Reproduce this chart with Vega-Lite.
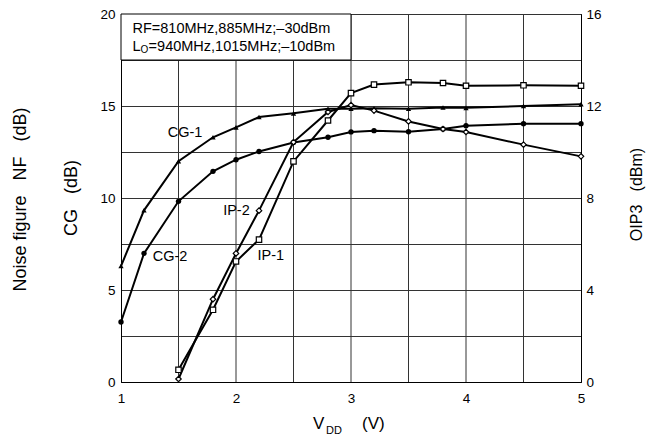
{
  "$schema": "https://vega.github.io/schema/vega-lite/v6.json",
  "autosize": {"type": "none"},
  "width": 460,
  "height": 368,
  "padding": {"left": 121, "top": 14, "right": 74, "bottom": 59},
  "background": "white",
  "config": {
    "font": "Liberation Sans",
    "view": {"stroke": "black", "strokeWidth": 1},
    "axis": {"labelFont": "Liberation Sans", "titleFont": "Liberation Sans", "labelColor": "black", "titleColor": "black", "domainColor": "black", "gridColor": "#333333", "gridWidth": 1, "gridOpacity": 1, "titleFontWeight": "normal"}
  },
  "datasets": {
    "cg": [
      {"series": "CG-1", "vdd": 1.0, "value": 6.3},
      {"series": "CG-1", "vdd": 1.2, "value": 9.33},
      {"series": "CG-1", "vdd": 1.5, "value": 12.0},
      {"series": "CG-1", "vdd": 1.8, "value": 13.3},
      {"series": "CG-1", "vdd": 2.0, "value": 13.84},
      {"series": "CG-1", "vdd": 2.2, "value": 14.4},
      {"series": "CG-1", "vdd": 2.5, "value": 14.6},
      {"series": "CG-1", "vdd": 2.8, "value": 14.85},
      {"series": "CG-1", "vdd": 3.0, "value": 14.85},
      {"series": "CG-1", "vdd": 3.2, "value": 14.88},
      {"series": "CG-1", "vdd": 3.5, "value": 14.85},
      {"series": "CG-1", "vdd": 3.8, "value": 14.92},
      {"series": "CG-1", "vdd": 4.0, "value": 14.9},
      {"series": "CG-1", "vdd": 4.5, "value": 15.0},
      {"series": "CG-1", "vdd": 5.0, "value": 15.1},
      {"series": "CG-2", "vdd": 1.0, "value": 3.26},
      {"series": "CG-2", "vdd": 1.2, "value": 6.99},
      {"series": "CG-2", "vdd": 1.5, "value": 9.82},
      {"series": "CG-2", "vdd": 1.8, "value": 11.45},
      {"series": "CG-2", "vdd": 2.0, "value": 12.08},
      {"series": "CG-2", "vdd": 2.2, "value": 12.53},
      {"series": "CG-2", "vdd": 2.5, "value": 13.02},
      {"series": "CG-2", "vdd": 2.8, "value": 13.3},
      {"series": "CG-2", "vdd": 3.0, "value": 13.59},
      {"series": "CG-2", "vdd": 3.2, "value": 13.66},
      {"series": "CG-2", "vdd": 3.5, "value": 13.6},
      {"series": "CG-2", "vdd": 3.8, "value": 13.75},
      {"series": "CG-2", "vdd": 4.0, "value": 13.93},
      {"series": "CG-2", "vdd": 4.5, "value": 14.04},
      {"series": "CG-2", "vdd": 5.0, "value": 14.04}
    ],
    "ip": [
      {"series": "IP-1", "vdd": 1.5, "value": 0.53},
      {"series": "IP-1", "vdd": 1.8, "value": 3.14},
      {"series": "IP-1", "vdd": 2.0, "value": 5.24},
      {"series": "IP-1", "vdd": 2.2, "value": 6.19},
      {"series": "IP-1", "vdd": 2.5, "value": 9.59},
      {"series": "IP-1", "vdd": 2.8, "value": 11.37},
      {"series": "IP-1", "vdd": 3.0, "value": 12.56},
      {"series": "IP-1", "vdd": 3.2, "value": 12.93},
      {"series": "IP-1", "vdd": 3.5, "value": 13.03},
      {"series": "IP-1", "vdd": 3.8, "value": 13.0},
      {"series": "IP-1", "vdd": 4.0, "value": 12.88},
      {"series": "IP-1", "vdd": 4.5, "value": 12.9},
      {"series": "IP-1", "vdd": 5.0, "value": 12.88},
      {"series": "IP-2", "vdd": 1.5, "value": 0.13},
      {"series": "IP-2", "vdd": 1.8, "value": 3.6},
      {"series": "IP-2", "vdd": 2.0, "value": 5.59},
      {"series": "IP-2", "vdd": 2.2, "value": 7.45},
      {"series": "IP-2", "vdd": 2.5, "value": 10.43},
      {"series": "IP-2", "vdd": 2.8, "value": 11.74},
      {"series": "IP-2", "vdd": 3.0, "value": 12.04},
      {"series": "IP-2", "vdd": 3.2, "value": 11.8},
      {"series": "IP-2", "vdd": 3.5, "value": 11.33},
      {"series": "IP-2", "vdd": 3.8, "value": 11.0},
      {"series": "IP-2", "vdd": 4.0, "value": 10.87},
      {"series": "IP-2", "vdd": 4.5, "value": 10.32},
      {"series": "IP-2", "vdd": 5.0, "value": 9.81}
    ],
    "vgrid": [
      {"g": "a", "vdd": 1.5, "y": 0}, {"g": "a", "vdd": 1.5, "y": 20},
      {"g": "b", "vdd": 2.0, "y": 0}, {"g": "b", "vdd": 2.0, "y": 20},
      {"g": "c", "vdd": 2.5, "y": 0}, {"g": "c", "vdd": 2.5, "y": 20},
      {"g": "d", "vdd": 3.0, "y": 0}, {"g": "d", "vdd": 3.0, "y": 20},
      {"g": "e", "vdd": 3.5, "y": 0}, {"g": "e", "vdd": 3.5, "y": 20},
      {"g": "f", "vdd": 4.0, "y": 0}, {"g": "f", "vdd": 4.0, "y": 20},
      {"g": "h", "vdd": 4.5, "y": 0}, {"g": "h", "vdd": 4.5, "y": 20}
    ],
    "box": [
      {"vdd": 1, "vdd2": 3, "y": 17.5, "y2": 20}
    ],
    "notes": [
      {"group": "curve", "vdd": 1.557, "y": 13.51, "text": "CG-1"},
      {"group": "curve", "vdd": 1.426, "y": 6.82, "text": "CG-2"},
      {"group": "curve", "vdd": 2.004, "y": 9.31, "text": "IP-2"},
      {"group": "curve", "vdd": 2.302, "y": 6.85, "text": "IP-1"},
      {"group": "box", "vdd": 1.1, "y": 19.18, "text": "RF=810MHz,885MHz;–30dBm"},
      {"group": "box", "vdd": 1.1, "y": 18.23, "text": "L"},
      {"group": "boxsub", "vdd": 1.17, "y": 18.03, "text": "O"},
      {"group": "box", "vdd": 1.24, "y": 18.23, "text": "=940MHz,1015MHz;–10dBm"},
      {"group": "xtitle", "vdd": 2.67, "y": -2.283, "text": "V"},
      {"group": "xsub", "vdd": 2.783, "y": -2.636, "text": "DD"},
      {"group": "xtitle", "vdd": 3.096, "y": -2.283, "text": "(V)"}
    ]
  },
  "encoding": {
    "x": {"field": "vdd", "type": "quantitative", "scale": {"domain": [1, 5], "nice": false},
      "axis": {"values": [1, 2, 3, 4, 5], "format": "d", "grid": false, "ticks": false, "title": null, "labelFontSize": 13.5, "labelPadding": 9, "labelFlush": false, "labelOverlap": false, "domainWidth": 1}}
  },
  "layer": [
    {
      "data": {"name": "vgrid"},
      "mark": {"type": "line", "color": "#333333", "strokeWidth": 1},
      "encoding": {
        "detail": {"field": "g"},
        "y": {"field": "y", "type": "quantitative", "scale": {"domain": [0, 20], "nice": false},
          "axis": {"orient": "left", "labels": false, "ticks": false, "domain": false, "grid": false,
            "title": "Noise figure\u00a0\u00a0\u00a0NF\u00a0\u00a0\u00a0(dB)", "titleFontSize": 18, "titleX": -101, "titleY": 185, "titleAngle": 270, "titleAlign": "center", "titleBaseline": "middle"}}
      }
    },
    {
      "data": {"name": "cg"},
      "encoding": {
        "y": {"field": "value", "type": "quantitative", "scale": {"domain": [0, 20], "nice": false},
          "axis": {"orient": "left", "values": [0, 2.5, 5, 7.5, 10, 12.5, 15, 17.5, 20], "labelExpr": "datum.value % 5 === 0 ? datum.label : ''", "grid": true, "ticks": false, "labelFontSize": 13.5, "labelPadding": 6, "labelOverlap": false, "labelFlush": false,
            "title": "CG\u00a0\u00a0\u00a0(dB)", "titleFontSize": 18, "titleX": -50, "titleY": 183.5, "titleAngle": 270, "titleAlign": "center", "titleBaseline": "middle"}}
      },
      "layer": [
        {"mark": {"type": "line", "color": "black", "strokeWidth": 2}, "encoding": {"detail": {"field": "series"}}},
        {"mark": {"type": "point", "filled": true, "color": "black", "opacity": 1},
          "encoding": {
            "shape": {"field": "series", "scale": {"domain": ["CG-1", "CG-2", "IP-1", "IP-2"], "range": ["triangle-up", "circle", "square", "diamond"]}, "legend": null},
            "size": {"field": "series", "type": "nominal", "scale": {"domain": ["CG-1", "CG-2", "IP-1", "IP-2"], "range": [28, 30, 49, 40]}, "legend": null}
          }}
      ]
    },
    {
      "data": {"name": "ip"},
      "encoding": {
        "y": {"field": "value", "type": "quantitative", "scale": {"domain": [0, 16], "nice": false},
          "axis": {"orient": "right", "values": [0, 4, 8, 12, 16], "grid": false, "ticks": false, "labelFontSize": 13.5, "labelPadding": 5, "labelOverlap": false, "labelFlush": false,
            "title": "OIP3\u00a0\u00a0\u00a0(dBm)", "titleFontSize": 16, "titleX": 55, "titleY": 180, "titleAngle": 270, "titleAlign": "center", "titleBaseline": "middle"}}
      },
      "layer": [
        {"mark": {"type": "line", "color": "black", "strokeWidth": 2}, "encoding": {"detail": {"field": "series"}}},
        {"mark": {"type": "point", "filled": false, "fill": "white", "stroke": "black", "strokeWidth": 1.2, "opacity": 1, "fillOpacity": 1},
          "encoding": {
            "shape": {"field": "series", "scale": {"domain": ["CG-1", "CG-2", "IP-1", "IP-2"], "range": ["triangle-up", "circle", "square", "diamond"]}, "legend": null},
            "size": {"field": "series", "type": "nominal", "scale": {"domain": ["CG-1", "CG-2", "IP-1", "IP-2"], "range": [28, 30, 49, 40]}, "legend": null}
          }}
      ]
    },
    {
      "encoding": {
        "y": {"field": "y", "type": "quantitative", "scale": {"domain": [0, 20], "nice": false}, "axis": null}
      },
      "layer": [
        {"data": {"name": "box"}, "mark": {"type": "rect", "fill": "white", "stroke": "black", "strokeWidth": 1},
          "encoding": {"x2": {"field": "vdd2"}, "y2": {"field": "y2"}}},
        {"data": {"name": "notes"}, "transform": [{"filter": "datum.group === 'curve'"}],
          "mark": {"type": "text", "fontSize": 14.5, "align": "center", "baseline": "middle", "color": "black"},
          "encoding": {"text": {"field": "text"}}},
        {"data": {"name": "notes"}, "transform": [{"filter": "datum.group === 'box'"}],
          "mark": {"type": "text", "fontSize": 14.5, "align": "left", "baseline": "middle", "color": "black"},
          "encoding": {"text": {"field": "text"}}},
        {"data": {"name": "notes"}, "transform": [{"filter": "datum.group === 'boxsub'"}],
          "mark": {"type": "text", "fontSize": 10, "align": "left", "baseline": "middle", "color": "black"},
          "encoding": {"text": {"field": "text"}}},
        {"data": {"name": "notes"}, "transform": [{"filter": "datum.group === 'xtitle'"}],
          "mark": {"type": "text", "fontSize": 17, "align": "left", "baseline": "middle", "color": "black"},
          "encoding": {"text": {"field": "text"}}},
        {"data": {"name": "notes"}, "transform": [{"filter": "datum.group === 'xsub'"}],
          "mark": {"type": "text", "fontSize": 11, "align": "left", "baseline": "middle", "color": "black"},
          "encoding": {"text": {"field": "text"}}}
      ]
    }
  ],
  "resolve": {"scale": {"y": "independent"}, "axis": {"y": "independent"}}
}
